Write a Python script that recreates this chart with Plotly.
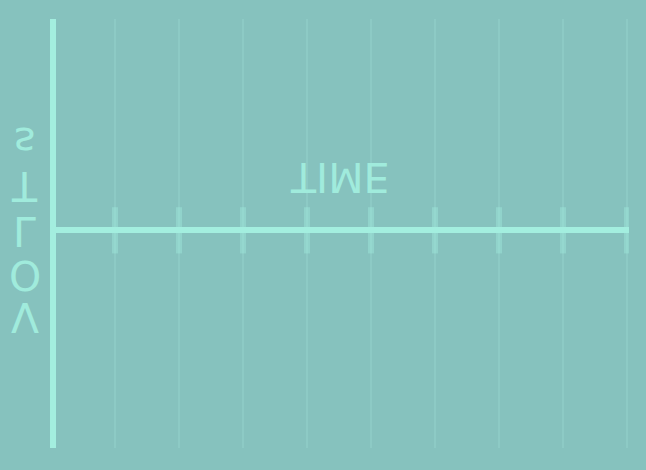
import plotly.graph_objects as go

# ---- data ----
tick_positions = [1, 2, 3, 4, 5, 6, 7, 8, 9]
tick_values = [0, 0, 0, 0, 0, 0, 0, 0, 0]
x_title = "TIME"
y_title = "VOLTs"

# ---- style ----
BG = "#86C2BE"
AXIS = "#A3EEDF"
TEXT = "#A0EBDC"
GRID = "#8DCAC5"
TICK = "rgba(163,238,223,0.38)"

W, H = 646, 470
L, R, T, B = 56, 17, 19, 22
PW, PH = W - L - R, H - T - B


def px_x(px):
    return (px - L) / PW


def px_y(py):
    return (H - B - py) / PH


fig = go.Figure()
fig.add_trace(go.Scatter(
    x=tick_positions, y=tick_values, mode="markers",
    marker=dict(symbol="line-ns", size=33, line=dict(width=6, color=TICK), color=TICK),
    hoverinfo="skip", showlegend=False,
))

annotations = [dict(
    text=x_title, xref="paper", yref="paper", x=px_x(339.5), y=px_y(177),
    xanchor="center", yanchor="middle", showarrow=False,
    font=dict(family="DejaVu Sans", size=41, color=TEXT),
)]
letter_centers = [317, 275, 231, 186, 142]
for ch, cy in zip(y_title, letter_centers):
    annotations.append(dict(
        text=ch, xref="paper", yref="paper", x=px_x(24.5), y=px_y(cy),
        xanchor="center", yanchor="middle", showarrow=False,
        font=dict(family="DejaVu Sans", size=41, color=TEXT),
    ))

fig.update_layout(
    width=W, height=H,
    margin=dict(l=L, r=R, t=T, b=B, pad=0),
    paper_bgcolor=BG, plot_bgcolor=BG,
    showlegend=False,
    annotations=annotations,
    xaxis=dict(range=[(L - 51) / 64, (W - R - 51) / 64], tickvals=tick_positions,
               showgrid=True, gridcolor=GRID, gridwidth=2, zeroline=False,
               showline=False, showticklabels=False, ticks="", fixedrange=True),
    yaxis=dict(range=[-1.03, 1], showgrid=False, zeroline=True, zerolinewidth=6,
               zerolinecolor=AXIS, showline=True, linewidth=6, linecolor=AXIS,
               showticklabels=False, ticks="", fixedrange=True),
)

post = """
document.body.style.margin = '0';
document.body.style.padding = '0';
document.body.style.overflow = 'hidden';
var gd = document.getElementById('{plot_id}');
gd.querySelectorAll('text.annotation-text').forEach(function(t){
  t.style.transformBox = 'fill-box';
  t.style.transformOrigin = '50% 50%';
  t.style.transform = 'scaleY(-1)';
});
"""
fig.write_html("out.html", config={"displayModeBar": False}, post_script=post)
